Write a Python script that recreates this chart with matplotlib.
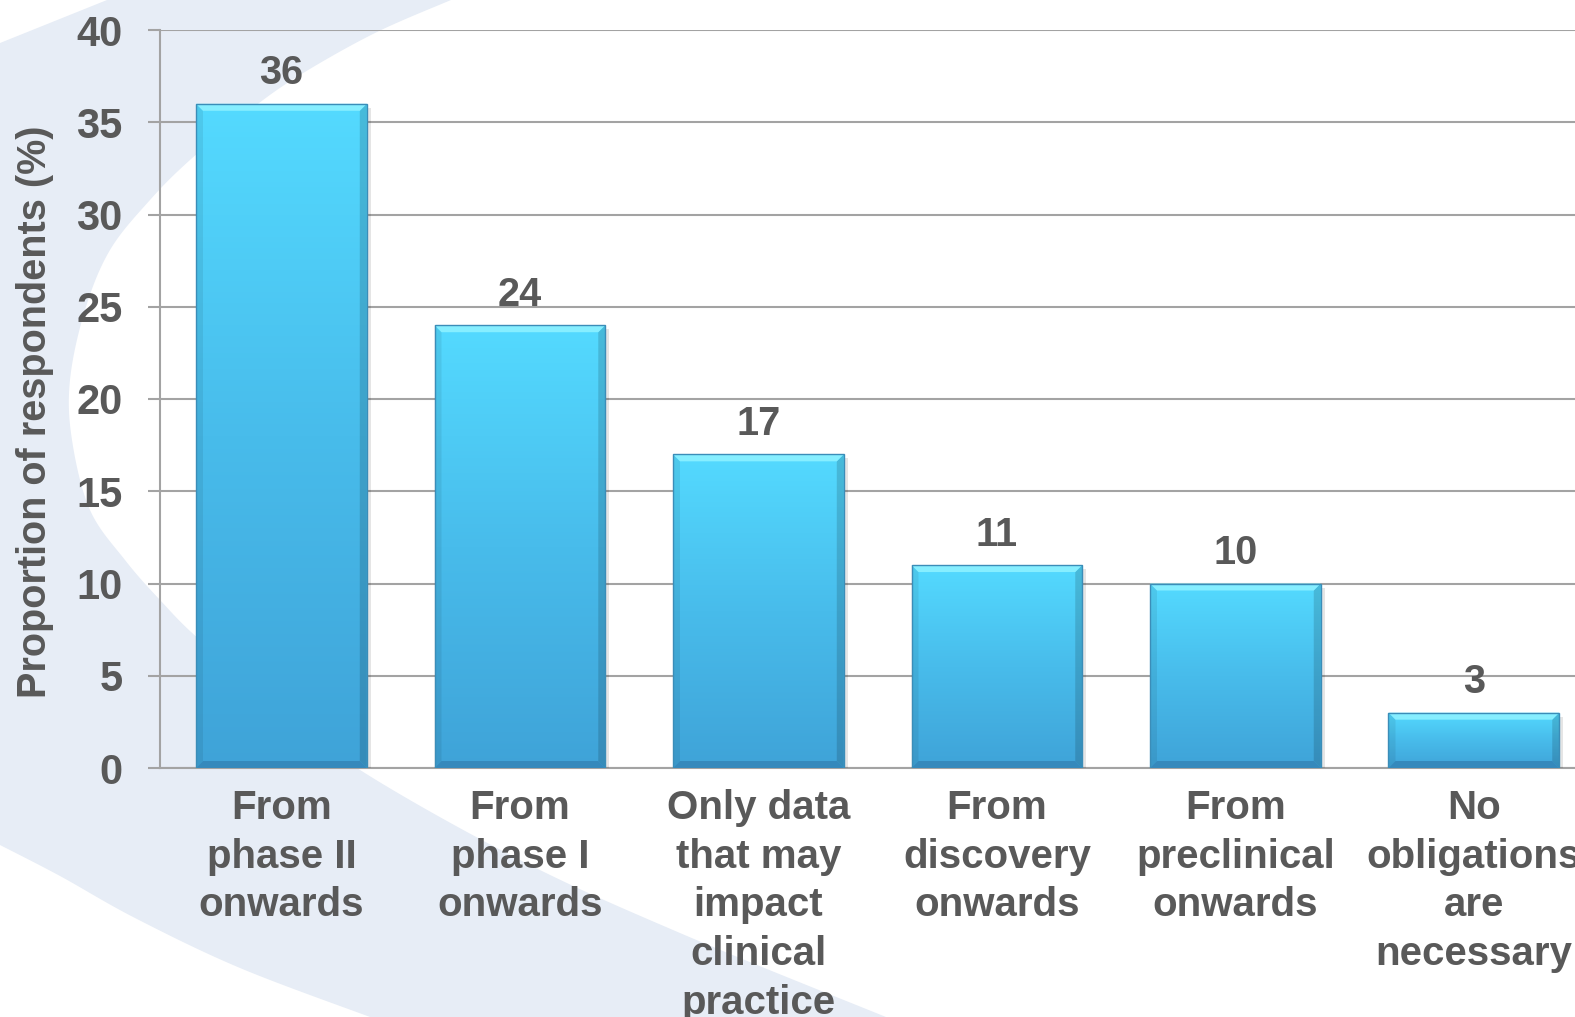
import matplotlib
matplotlib.use("Agg")
import matplotlib.pyplot as plt
import numpy as np
from matplotlib.patches import Polygon
from matplotlib.colors import LinearSegmentedColormap

# ---------------- data ----------------
categories = ["From\nphase II\nonwards",
              "From\nphase I\nonwards",
              "Only data\nthat may\nimpact\nclinical\npractice",
              "From\ndiscovery\nonwards",
              "From\npreclinical\nonwards",
              "No\nobligations\nare\nnecessary"]
values = [36, 24, 17, 11, 10, 3]
yticks = [0, 5, 10, 15, 20, 25, 30, 35, 40]
ylabel = "Proportion of respondents (%)"

# ---------------- style ----------------
plt.rcParams['font.family'] = ['Liberation Sans', 'DejaVu Sans']
plt.rcParams['font.weight'] = 'bold'
TXT = '#595959'
GRID = '#A3A3A3'
BAND = '#E7EDF6'

W, H = 1575, 1017
fig = plt.figure(figsize=(W / 100, H / 100), dpi=100)
fig.patch.set_facecolor('white')


def smooth(pts, n=16):
    p = np.asarray(pts, float)
    p = np.vstack([p[0], p, p[-1]])
    out = []
    for i in range(1, len(p) - 2):
        p0, p1, p2, p3 = p[i - 1], p[i], p[i + 1], p[i + 2]
        for t in np.linspace(0, 1, n, endpoint=False):
            t2, t3 = t * t, t * t * t
            out.append(0.5 * ((2 * p1) + (-p0 + p2) * t +
                              (2 * p0 - 5 * p1 + 4 * p2 - p3) * t2 +
                              (-p0 + 3 * p1 - 3 * p2 + p3) * t3))
    out.append(p[-2])
    return np.array(out)


# decorative background swoosh (pixel coords, y from top)
inner = smooth([(451, 0), (375, 33), (300, 75), (250, 110), (190, 160), (150, 200),
                (110, 250), (85, 310), (70, 380), (72, 440), (90, 510), (125, 560),
                (160, 600), (200, 640), (280, 705), (357, 768), (520, 860),
                (680, 933), (886, 1017)])
outer_low = smooth([(370, 1017), (240, 968), (135, 918), (60, 876), (0, 845)])
band = np.vstack([[(107, 0)], inner, [(890, 1030), (370, 1030)], outer_low,
                  [(0, 43), (107, 0)]])
band_fig = np.column_stack([band[:, 0] / W, 1 - band[:, 1] / H])
fig.patches.append(Polygon(band_fig, closed=True, transform=fig.transFigure,
                           facecolor=BAND, edgecolor='none', zorder=0))

# ---------------- axes ----------------
left_px, bot_px, top_px = 160, 249, 987
ax = fig.add_axes([left_px / W, bot_px / H, (W - left_px) / W, (top_px - bot_px) / H])
ax.set_facecolor('none')
ax.set_zorder(1)
x = np.arange(len(categories))
xlim = (-0.509, 5.424)
ylim = (0, 40)

bars = ax.bar(x, values, width=0.716, color='none', edgecolor='none', zorder=3)
ax.set_xlim(*xlim)
ax.set_ylim(*ylim)

ax.set_yticks(yticks)
ax.set_yticklabels([str(t) for t in yticks])
ax.yaxis.grid(True, color=GRID, lw=1.5)
ax.set_axisbelow(True)
for s in ['top', 'right']:
    ax.spines[s].set_visible(False)
for s in ['left', 'bottom']:
    ax.spines[s].set_color(GRID)
    ax.spines[s].set_linewidth(1.5)
ax.tick_params(axis='y', direction='out', length=9, width=1.5, color=GRID,
               labelsize=30, labelcolor=TXT, pad=18)
ax.set_xticks(x)
ax.set_xticklabels(categories, linespacing=1.36)
ax.tick_params(axis='x', length=0, labelsize=29, labelcolor=TXT, pad=15)
for lab in ax.get_xticklabels() + ax.get_yticklabels():
    lab.set_fontweight('bold')

fig.text(35 / W, 1 - 412 / H, ylabel, rotation=90, ha='center', va='center',
         fontsize=28.5, color=TXT, fontweight='bold')

# ---------------- bar rendering (gradient + bevel) ----------------
cmap = LinearSegmentedColormap.from_list('bar', ['#3FA3D8', '#48BCEB', '#54DAFF'])
grad = np.linspace(0, 1, 256).reshape(-1, 1)
ax_w_px = W - left_px
sx = ax_w_px / (xlim[1] - xlim[0])
sy = (top_px - bot_px) / (ylim[1] - ylim[0])
bev = 7
dx, dy = bev / sx, bev / sy
for rect in bars:
    x0, y0 = rect.get_x(), rect.get_y()
    w, h = rect.get_width(), rect.get_height()
    x1, y1 = x0 + w, y0 + h
    # soft shadow
    ax.add_patch(Polygon([(x0 + 3 / sx, y0), (x1 + 4 / sx, y0), (x1 + 4 / sx, y1 - 4 / sy),
                          (x1, y1 - 4 / sy), (x1, y0)], closed=True,
                         facecolor='#000000', alpha=0.10, edgecolor='none', zorder=2.9))
    im = ax.imshow(grad, extent=[x0, x1, y0, y1], origin='lower', aspect='auto',
                   cmap=cmap, zorder=3, interpolation='bilinear')
    im.set_clip_path(rect)
    # bevels
    ax.add_patch(Polygon([(x0, y1), (x1, y1), (x1 - dx, y1 - dy), (x0 + dx, y1 - dy)],
                         closed=True, facecolor='#86EEFF', edgecolor='none', zorder=3.2))
    ax.add_patch(Polygon([(x0, y0), (x1, y0), (x1 - dx, y0 + dy), (x0 + dx, y0 + dy)],
                         closed=True, facecolor='#3589BC', edgecolor='none', zorder=3.2))
    ax.add_patch(Polygon([(x0, y0), (x0 + dx, y0 + dy), (x0 + dx, y1 - dy), (x0, y1)],
                         closed=True, facecolor='#000000', alpha=0.07, edgecolor='none', zorder=3.1))
    ax.add_patch(Polygon([(x1, y0), (x1 - dx, y0 + dy), (x1 - dx, y1 - dy), (x1, y1)],
                         closed=True, facecolor='#000000', alpha=0.14, edgecolor='none', zorder=3.1))
    ax.add_patch(Polygon([(x0, y0), (x1, y0), (x1, y1), (x0, y1)], closed=True,
                         facecolor='none', edgecolor='#3B8DB8', lw=1.0, zorder=3.3))

ax.set_xlim(*xlim)
ax.set_ylim(*ylim)

# value labels
for xi, v in zip(x, values):
    ax.annotate(str(v), (xi, v), xytext=(0, 14), textcoords='offset points',
                ha='center', va='baseline', fontsize=28.5, color=TXT, fontweight='bold',
                zorder=5)

fig.savefig('out.png', dpi=100)
